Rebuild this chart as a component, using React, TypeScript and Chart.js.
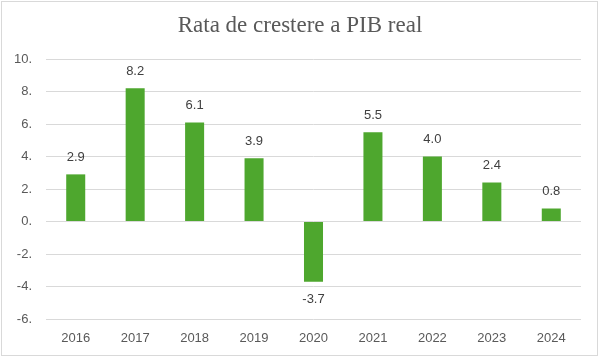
import React, { useEffect, useRef } from "react";
import { Chart, registerables } from "chart.js";

Chart.register(...registerables);

const years = ["2016", "2017", "2018", "2019", "2020", "2021", "2022", "2023", "2024"];
const growth = [2.9, 8.2, 6.1, 3.9, -3.7, 5.5, 4.0, 2.4, 0.8];
const titleText = "Rata de crestere a PIB real";

const bgPlugin = {
  id: "bgBorder",
  beforeDraw(chart: any) {
    const ctx = chart.ctx;
    ctx.save();
    ctx.fillStyle = "#ffffff";
    ctx.fillRect(0, 0, chart.width, chart.height);
    ctx.strokeStyle = "#d9d9d9";
    ctx.lineWidth = 1;
    ctx.strokeRect(1.5, 1.5, chart.width - 4, chart.height - 5);
    ctx.fillStyle = "#595959";
    ctx.font = "23px 'Liberation Serif', 'Times New Roman', serif";
    ctx.textAlign = "center";
    ctx.textBaseline = "middle";
    ctx.fillText(titleText, chart.width / 2, 26);
    ctx.restore();
  },
};

const labelPlugin = {
  id: "valueLabels",
  afterDatasetsDraw(chart: any) {
    const ctx = chart.ctx;
    const meta = chart.getDatasetMeta(0);
    const data = chart.data.datasets[0].data as number[];
    ctx.save();
    ctx.font = "13px 'Liberation Sans', Arial, sans-serif";
    ctx.fillStyle = "#404040";
    ctx.textAlign = "center";
    ctx.textBaseline = "middle";
    meta.data.forEach((bar: any, i: number) => {
      const v = data[i];
      const y = v >= 0 ? bar.y - 17 : bar.y + 18;
      ctx.fillText(v.toFixed(1), bar.x, y);
    });
    ctx.restore();
  },
};

export default function App() {
  const ref = useRef<HTMLCanvasElement | null>(null);
  useEffect(() => {
    document.body.style.margin = "0";
    if (!ref.current) return;
    const chart = new Chart(ref.current, {
      type: "bar",
      data: {
        labels: years,
        datasets: [
          {
            data: growth,
            backgroundColor: "#4ea72e",
            categoryPercentage: 1,
            barPercentage: 0.32,
          },
        ],
      },
      options: {
        responsive: false,
        animation: false,
        layout: { padding: { left: 0, right: 19, top: 59, bottom: 0 } },
        plugins: {
          legend: { display: false },
          tooltip: { enabled: false },
          title: { display: false },
        },
        scales: {
          x: {
            grid: { display: false, drawTicks: false },
            border: { display: false },
            ticks: {
              color: "#595959",
              font: { family: "'Liberation Sans', Arial, sans-serif", size: 13 },
              padding: 12,
            },
            afterFit(scale: any) {
              scale.height = 40;
            },
          },
          y: {
            min: -6,
            max: 10,
            grid: { color: "#d9d9d9", drawTicks: false, lineWidth: 1 },
            border: { display: false },
            ticks: {
              stepSize: 2,
              color: "#595959",
              font: { family: "'Liberation Sans', Arial, sans-serif", size: 13 },
              padding: 14,
              callback: (v: any) => `${v}.`,
            },
            afterFit(scale: any) {
              scale.width = 46;
            },
          },
        },
      },
      plugins: [bgPlugin, labelPlugin],
    });
    return () => chart.destroy();
  }, []);
  return <canvas ref={ref} width={600} height={359} style={{ display: "block" }} />;
}
